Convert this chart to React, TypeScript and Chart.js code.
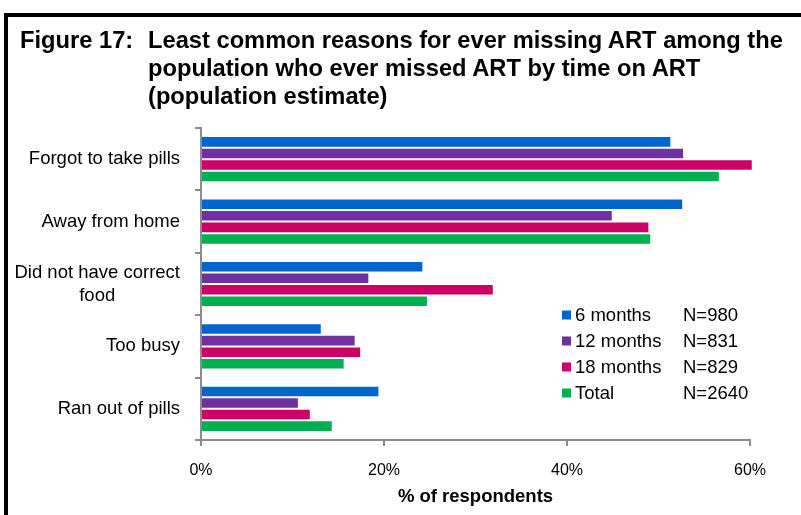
import React, { useEffect, useRef } from 'react';
import { Chart, registerables } from 'chart.js';

Chart.register(...registerables);

const categories = ['Forgot to take pills', 'Away from home', 'Did not have correct food', 'Too busy', 'Ran out of pills'];
const categoryLines = [['Forgot to take pills'], ['Away from home'], ['Did not have correct', 'food'], ['Too busy'], ['Ran out of pills']];
const seriesNames = ['6 months', '12 months', '18 months', 'Total'];
const seriesN = ['N=980', 'N=831', 'N=829', 'N=2640'];
const sixMonths = [51.4, 52.7, 24.3, 13.2, 19.5];
const twelveMonths = [52.8, 45.0, 18.4, 16.9, 10.7];
const eighteenMonths = [60.3, 49.0, 32.0, 17.5, 12.0];
const total = [56.7, 49.2, 24.8, 15.7, 14.4];
const seriesColors = ['#0066CC', '#7030A0', '#CC0066', '#00B050'];
const xTickValues = [0, 20, 40, 60];
const titleLead = 'Figure 17:';
const titleLines = ['Least common reasons for ever missing ART among the', 'population who ever missed ART by time on ART', '(population estimate)'];
const xAxisTitle = '% of respondents';

const FONT = '"Liberation Sans", Arial, sans-serif';

const labelsPlugin = {
  id: 'customLabels',
  afterDraw(chart: any) {
    const ctx = chart.ctx;
    const y = chart.scales.y;
    ctx.save();
    ctx.fillStyle = '#000';
    ctx.font = `18.5px ${FONT}`;
    ctx.textBaseline = 'middle';
    const rightX = y.right - 21;
    categoryLines.forEach((lines, i) => {
      const cy = y.getPixelForValue(i);
      const lh = 23;
      const widths = lines.map((l) => ctx.measureText(l).width);
      const maxW = Math.max(...widths);
      lines.forEach((l, j) => {
        const ly = cy + (j - (lines.length - 1) / 2) * lh;
        if (lines.length > 1) {
          ctx.textAlign = 'center';
          ctx.fillText(l, rightX - maxW / 2, ly);
        } else {
          ctx.textAlign = 'right';
          ctx.fillText(l, rightX, ly);
        }
      });
    });
    // legend
    const ca = chart.chartArea;
    const lx = ca.left + 361;
    const ly0 = ca.top + 187;
    const rowH = 26;
    ctx.font = `18.5px ${FONT}`;
    ctx.textAlign = 'left';
    seriesNames.forEach((name, i) => {
      const ry = ly0 + i * rowH;
      ctx.fillStyle = seriesColors[i];
      ctx.fillRect(lx, ry - 4.5, 9, 9);
      ctx.fillStyle = '#000';
      ctx.fillText(name, lx + 13, ry + 1);
      ctx.fillText(seriesN[i], lx + 121, ry + 1);
    });
    ctx.restore();
  },
};

export default function App() {
  const ref = useRef<HTMLCanvasElement>(null);
  useEffect(() => {
    const seriesData = [sixMonths, twelveMonths, eighteenMonths, total];
    const chart = new Chart(ref.current!, {
      type: 'bar',
      data: {
        labels: categories,
        datasets: seriesNames.map((name, i) => ({
          label: name,
          data: seriesData[i],
          backgroundColor: seriesColors[i],
          borderColor: 'rgba(255,255,255,0.45)',
          borderWidth: 1,
          categoryPercentage: 0.74,
          barPercentage: 1,
          clip: false,
        })),
      },
      options: {
        indexAxis: 'y',
        animation: false,
        responsive: false,
        maintainAspectRatio: false,
        layout: { padding: { top: 128, left: 0, right: 51, bottom: 0 } },
        plugins: {
          legend: { display: false },
          tooltip: { enabled: false },
          title: { display: false },
        },
        scales: {
          x: {
            type: 'linear',
            min: 0,
            max: 60,
            afterBuildTicks: (s: any) => {
              s.ticks = xTickValues.map((v) => ({ value: v }));
            },
            afterFit: (s: any) => {
              s.height = 75;
            },
            ticks: {
              callback: (v: any) => v + '%',
              font: { family: FONT, size: 16 },
              color: '#000',
              padding: 15,
              maxRotation: 0,
            },
            grid: { drawOnChartArea: false, tickLength: 6, color: '#8c8c8c', lineWidth: 2 },
            border: { display: true, color: '#8c8c8c', width: 2 },
            title: {
              display: true,
              text: xAxisTitle,
              font: { family: FONT, size: 18.5, weight: 'bold' },
              color: '#000',
              padding: { top: 0, bottom: 7 },
            },
          },
          y: {
            type: 'category',
            afterFit: (s: any) => {
              s.width = 201;
            },
            ticks: { display: false },
            grid: { drawOnChartArea: false, tickLength: 6, color: '#8c8c8c', lineWidth: 2, offset: true },
            border: { display: true, color: '#8c8c8c', width: 2 },
          },
        },
      },
      plugins: [labelsPlugin],
    });
    return () => chart.destroy();
  }, []);

  return (
    <div style={{ position: 'fixed', left: 0, top: 0, width: 801, height: 515, background: '#fff', overflow: 'hidden' }}>
      <canvas ref={ref} width={801} height={515} style={{ position: 'absolute', left: 0, top: 0, width: 801, height: 515 }} />
      <div style={{ position: 'absolute', left: 4, top: 13, width: 797, height: 4, background: '#000' }} />
      <div style={{ position: 'absolute', left: 4, top: 13, width: 4, height: 502, background: '#000' }} />
      <div
        style={{
          position: 'absolute',
          left: 20,
          top: 26,
          display: 'flex',
          fontFamily: FONT,
          fontWeight: 'bold',
          fontSize: '23.7px',
          lineHeight: '28px',
          color: '#000',
          whiteSpace: 'nowrap',
        }}
      >
        <div style={{ width: 128 }}>{titleLead}</div>
        <div>
          {titleLines.map((l, i) => (
            <div key={i}>{l}</div>
          ))}
        </div>
      </div>
    </div>
  );
}
